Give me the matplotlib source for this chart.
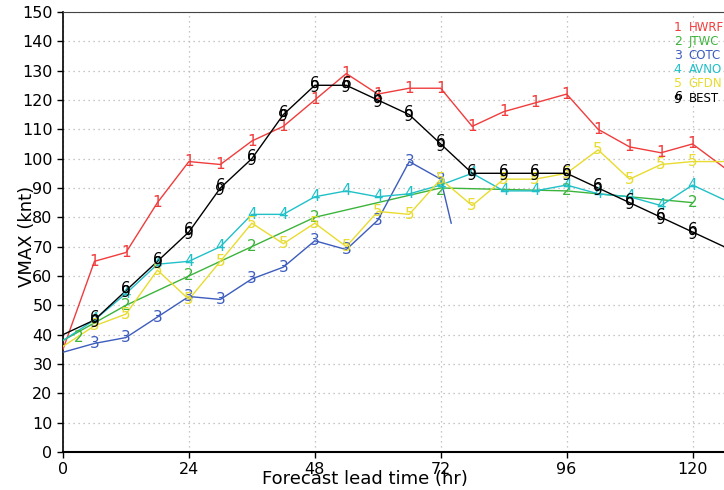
import matplotlib
matplotlib.use('Agg')
import matplotlib.pyplot as plt
import numpy as np

# forecast hours
hrs = [0, 6, 12, 18, 24, 30, 36, 42, 48, 54, 60, 66, 72, 78, 84, 90, 96, 102, 108, 114, 120, 126]

hwrf = [35, 65, 68, 85, 99, 98, 106, 111, 120, 129, 122, 124, 124, 111, 116, 119, 122, 110, 104, 102, 105, 97]
avno = [38, 45, 54, 64, 65, 70, 81, 81, 87, 89, 87, 88, 91, 95, 89, 89, 91, 88, 87, 84, 91, 86]
gfdn = [36, 43, 47, 62, 52, 65, 78, 71, 78, 70, 82, 81, 93, 84, 93, 93, 95, 103, 93, 98, 99, 99]
best = [40, 45, 55, 65, 75, 90, 100, 115, 125, 125, 120, 115, 105, 95, 95, 95, 95, 90, 85, 80, 75, 70]

jtwc_hrs = [0, 12, 24, 36, 48, 72, 96, 120]
jtwc = [38, 50, 60, 70, 80, 90, 89, 85]
jtwc_lab_hrs = [3, 12, 24, 36, 48, 72, 96, 120]
jtwc_lab = [39, 50, 60, 70, 80, 89, 89, 85]

cotc_hrs = [0, 6, 12, 18, 24, 30, 36, 42, 48, 54, 60, 66, 72, 74]
cotc = [34, 37, 39, 46, 53, 52, 59, 63, 72, 69, 79, 99, 93, 78]

names = ['HWRF', 'JTWC', 'COTC', 'AVNO', 'GFDN', 'BEST']
colors = ['#f03c3c', '#3cb43c', '#3c5cbe', '#20c0c8', '#e8dc30', 'black']

fig = plt.figure(figsize=(7.24, 4.90), dpi=100)
ax = fig.add_axes([0.087, 0.0776, 0.913, 0.898])

def best_mark(x, y, c, fs, trans=None):
    kw = dict(color=c, fontsize=fs, ha='center', va='center', zorder=5)
    ax.annotate('6', (x, y), xytext=(0, 1.5), textcoords='offset points', **kw)
    ax.annotate('9', (x, y), xytext=(0, -1.5), textcoords='offset points', **kw)

def draw(x, y, c, mark, skip_last=False):
    ax.plot(x, y, color=c, lw=1.0, zorder=3)
    n = len(x) - 1 if skip_last else len(x)
    for i in range(n):
        if x[i] <= 0 or x[i] > 124:
            continue
        if mark == 'best':
            best_mark(x[i], y[i], c, 11)
        else:
            ax.text(x[i], y[i], mark, color=c, fontsize=11, ha='center', va='center', zorder=4)

draw(hrs, hwrf, colors[0], '1')
ax.plot(jtwc_hrs, jtwc, color=colors[1], lw=1.0, zorder=3)
for xx, yy in zip(jtwc_lab_hrs, jtwc_lab):
    ax.text(xx, yy, '2', color=colors[1], fontsize=11, ha='center', va='center', zorder=4)
draw(cotc_hrs, cotc, colors[2], '3', skip_last=True)
draw(hrs, avno, colors[3], '4')
draw(hrs, gfdn, colors[4], '5')
draw(hrs, best, colors[5], 'best')

ax.set_xlim(0, 126)
ax.set_ylim(0, 150)
ax.set_xticks([0, 24, 48, 72, 96, 120])
ax.set_yticks(np.arange(0, 151, 10))
ax.tick_params(labelsize=11.5, direction='out', length=4, width=1)
ax.grid(True, color='#b4b4b4', linestyle=(0, (1, 3)), lw=0.9)
ax.set_axisbelow(True)
ax.spines['right'].set_visible(False)
ax.spines['top'].set_color('#444444')
ax.spines['top'].set_linestyle((0, (4, 1)))
ax.spines['left'].set_linewidth(1.2)
ax.spines['bottom'].set_linewidth(1.5)

ax.set_xlabel('Forecast lead time (hr)', fontsize=13)
ax.xaxis.set_label_coords(0.457, -0.062)
ax.xaxis.label.set_va('center')
ax.set_ylabel('VMAX (knt)', fontsize=13)
ax.yaxis.set_label_coords(-0.054, 0.49)
ax.yaxis.label.set_va('center')

# legend (top right)
for i, (nm, c) in enumerate(zip(names, colors)):
    y = 0.943 - i * 0.0286
    if i == 5:
        fig.text(0.936, y + 0.003, '6', color=c, fontsize=9, ha='center', va='center')
        fig.text(0.936, y - 0.003, '9', color=c, fontsize=9, ha='center', va='center')
    else:
        fig.text(0.936, y, str(i + 1), color=c, fontsize=9, ha='center', va='center')
    fig.text(0.951, y, nm, color=c, fontsize=8.5, ha='left', va='center')

fig.savefig('out.png', dpi=100)
